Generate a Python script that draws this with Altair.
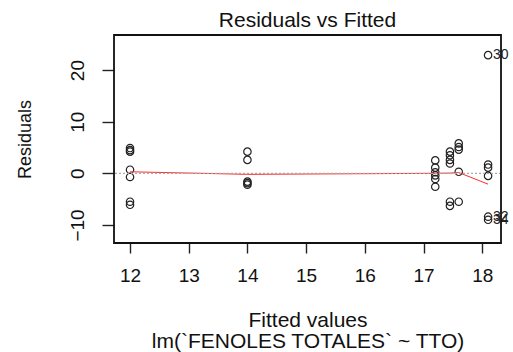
import altair as alt
import pandas as pd

# Residuals grouped by fitted value (one group per treatment level)
fitted_levels = [12.0, 14.0, 17.2, 17.45, 17.6, 18.1]
res_12 = [4.9, 4.5, 4.2, 0.7, -0.7, -5.5, -6.1]
res_14 = [4.2, 2.6, -1.6, -1.9, -2.2]
res_172 = [2.5, 1.1, 0.2, -0.4, -1.1, -2.6]
res_1745 = [4.2, 3.5, 2.6, 1.9, -5.5, -6.3]
res_176 = [5.8, 5.1, 4.6, 0.3, -5.5]
res_181 = [22.9, 1.7, 1.1, -0.5, -8.4, -9.0]

# Smoothed (lowess) residual trend
smooth_x = [12.0, 14.0, 17.2, 17.45, 17.6, 18.1]
smooth_y = [0.3, -0.2, 0.0, 0.05, 0.15, -2.1]

# Observations flagged with their index
flag_ids = ["30", "32", "34"]
flag_x = [18.1, 18.1, 18.1]
flag_y = [22.9, -8.4, -9.0]
flag_dy = [0, 1, 5]

x_ticks = [12, 13, 14, 15, 16, 17, 18]
y_ticks = [-10, 0, 10, 20]

groups = [res_12, res_14, res_172, res_1745, res_176, res_181]
rows = []
for fx, vals in zip(fitted_levels, groups):
    for r in vals:
        rows.append({"fitted": fx, "resid": r})
pts = pd.DataFrame(rows)
smooth = pd.DataFrame({"fitted": smooth_x, "resid": smooth_y})
flags = pd.DataFrame({"fitted": flag_x, "resid": flag_y, "id": flag_ids, "dy": flag_dy})
zero = pd.DataFrame({"resid": [0]})

FONT = "Liberation Sans"
W, H = 387, 208

x_scale = alt.Scale(domain=[11.727, 18.32], nice=False, zero=False)
y_scale = alt.Scale(domain=[-13.5, 26.8], nice=False, zero=False)

x_enc = alt.X(
    "fitted:Q",
    scale=x_scale,
    axis=alt.Axis(
        values=x_ticks,
        format="d",
        title=["Fitted values", "lm(`FENOLES TOTALES` ~ TTO)"],
        titleFontSize=21,
        titleFont=FONT,
        titleFontWeight="normal",
        titleColor="#111",
        titleBaseline="alphabetic",
        titleY=83,
        titleLineHeight=21,
        labelFontSize=19,
        labelFont=FONT,
        labelColor="#111",
        labelPadding=13,
        tickSize=10,
        tickColor="#222",
        tickWidth=1.4,
        domain=False,
        grid=False,
    ),
)
y_enc = alt.Y(
    "resid:Q",
    scale=y_scale,
    axis=alt.Axis(
        values=y_ticks,
        format="d",
        title="Residuals",
        titleFontSize=18,
        titleFont=FONT,
        titleFontWeight="normal",
        titleColor="#111",
        titleAngle=-90,
        titleAlign="center",
        titleBaseline="alphabetic",
        titleX=-84,
        titleY=104,
        labelFontSize=19,
        labelFont=FONT,
        labelColor="#111",
        labelAngle=-90,
        labelAlign="center",
        labelBaseline="bottom",
        labelPadding=15,
        tickSize=12,
        tickColor="#222",
        tickWidth=1.4,
        domain=False,
        grid=False,
    ),
)

points = alt.Chart(pts).mark_point(
    shape="circle", filled=False, size=55, color="#222", strokeWidth=1.2, opacity=1
).encode(x=x_enc, y=y_enc)

trend = alt.Chart(smooth).mark_line(color="#ff2a2a", strokeWidth=1).encode(
    x="fitted:Q", y="resid:Q"
)

zero_line = alt.Chart(zero).mark_rule(
    color="#aaaaaa", strokeDash=[2, 2], strokeWidth=1.2
).encode(y="resid:Q")

labels = alt.Chart(flags).mark_text(
    align="left", baseline="middle", dx=5, fontSize=14, font=FONT, color="#222"
).encode(x="fitted:Q", y="resid:Q", text="id:N", yOffset="dy:Q")

# Plot box around the data region
frame = alt.Chart(zero).mark_rect(
    fill=None, stroke="#111", strokeWidth=1.8, strokeOpacity=1
).encode(x=alt.value(0), x2=alt.value(W), y=alt.value(0), y2=alt.value(H))

chart = (
    alt.layer(points, trend, zero_line, labels, frame)
    .properties(
        width=W,
        height=H,
        title=alt.TitleParams(
            "Residuals vs Fitted",
            fontSize=21,
            font=FONT,
            fontWeight="normal",
            color="#111",
            anchor="middle",
            baseline="alphabetic",
            offset=-14,
        ),
        autosize=alt.AutoSizeParams(type="none"),
        padding={"left": 114, "top": 35, "right": 12, "bottom": 109},
    )
    .configure_view(stroke=None)
    .configure(background="white")
)

chart.save("out.html", embed_options={"renderer": "svg", "actions": False})
